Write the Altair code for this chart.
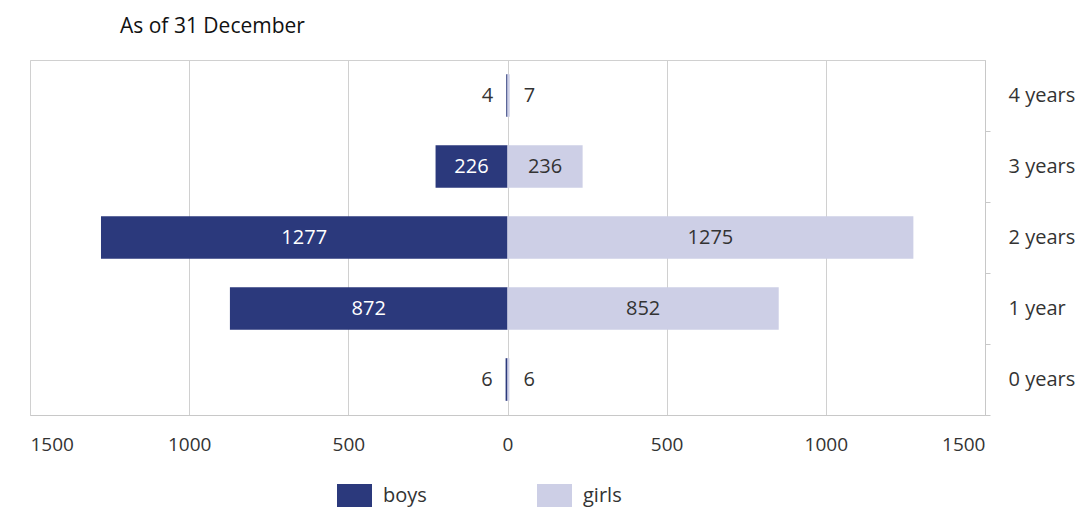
import altair as alt
import pandas as pd

ages = ["0 years", "1 year", "2 years", "3 years", "4 years"]
boys = [6, 872, 1277, 226, 4]
girls = [6, 852, 1275, 236, 7]
x_ticks = [-1500, -1000, -500, 0, 500, 1000, 1500]

rows = []
for a, b, g in zip(ages, boys, girls):
    rows.append({"age": a, "gender": "boys", "count": b, "signed": -b})
    rows.append({"age": a, "gender": "girls", "count": g, "signed": g})
df = pd.DataFrame(rows)

FONT = "Open Sans"
order = list(reversed(ages))

y_enc = alt.Y(
    "age:N",
    sort=order,
    title=None,
    scale=alt.Scale(paddingInner=0.4, paddingOuter=0.2),
    axis=alt.Axis(
        orient="right", domainColor="#c8c8c8", tickColor="#c8c8c8", tickSize=5,
        tickOffset=35.5, labelOffset=-35.5, labelPadding=18, labelFontSize=20,
        labelColor="#333333", labelFont=FONT, grid=False,
    ),
)
x_enc = alt.X(
    "signed:Q",
    title=None,
    scale=alt.Scale(domain=[-1500, 1500], nice=False),
    axis=alt.Axis(
        values=x_ticks, labelExpr="abs(datum.value)", grid=True, gridColor="#d0d0d0",
        domainColor="#c8c8c8", ticks=False, labelPadding=20, labelFontSize=19,
        labelColor="#333333", labelFont=FONT,
    ),
)

base = alt.Chart(df)

bars = base.mark_bar().encode(
    x=x_enc,
    y=y_enc,
    color=alt.Color(
        "gender:N",
        scale=alt.Scale(domain=["boys", "girls"], range=["#2b397c", "#cdcfe6"]),
        legend=alt.Legend(
            title=None, orient="none", legendX=307, legendY=418, direction="horizontal",
            symbolType="M-1,-0.657H1V0.657H-1Z", symbolSize=1225, symbolStrokeWidth=0,
            labelFontSize=20, labelFont=FONT, labelColor="#333333", labelOffset=11,
            columnPadding=110,
        ),
    ),
)

inside = base.transform_filter("datum.count > 100").transform_calculate(
    mid="datum.signed / 2"
).mark_text(fontSize=20, font=FONT).encode(
    x="mid:Q",
    y=alt.Y("age:N", sort=order),
    text="count:Q",
    color=alt.condition("datum.gender == 'boys'", alt.value("white"), alt.value("#333333")),
)

out_boys = base.transform_filter("datum.count <= 100 && datum.gender == 'boys'").mark_text(
    fontSize=20, font=FONT, align="right", dx=-13, color="#333333"
).encode(x="signed:Q", y=alt.Y("age:N", sort=order), text="count:Q")

out_girls = base.transform_filter("datum.count <= 100 && datum.gender == 'girls'").mark_text(
    fontSize=20, font=FONT, align="left", dx=14, color="#333333"
).encode(x="signed:Q", y=alt.Y("age:N", sort=order), text="count:Q")

chart = alt.layer(bars, inside, out_boys, out_girls).properties(
    width=955,
    height=355,
    autosize=alt.AutoSizeParams(type="none"),
    padding={"left": 22, "top": 52, "right": 92, "bottom": 93},
    title=alt.TitleParams(
        "As of 31 December", anchor="start", dx=90, offset=23, fontSize=21,
        fontWeight="normal", font=FONT, color="#111111",
    ),
).configure_view(stroke="#d0d0d0")

chart.save("out.html", embed_options={"renderer": "svg", "actions": False})
